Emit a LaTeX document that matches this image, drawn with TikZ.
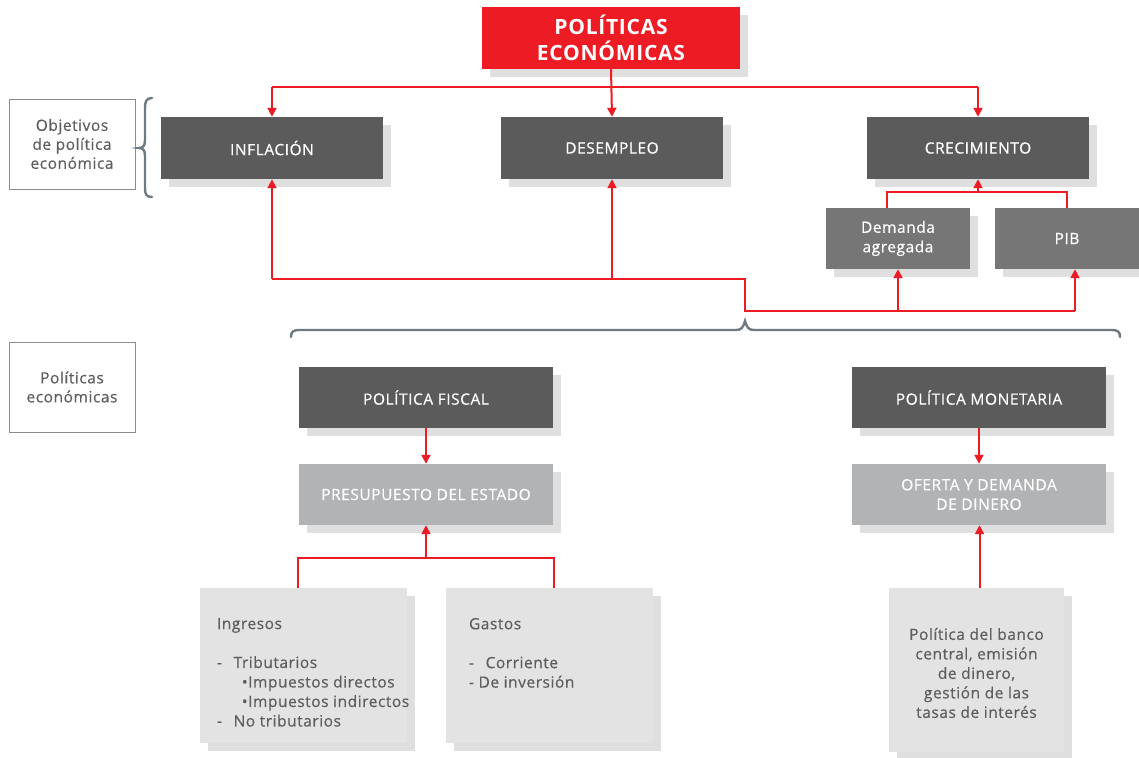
\documentclass[tikz,border=0pt]{standalone}
\usepackage{fontspec}
\setmainfont{Open Sans}[LetterSpace=3.5, UprightFeatures={FakeBold=0.5}]
\usetikzlibrary{arrows.meta,shadows}

\definecolor{polred}{HTML}{ED1C24}
\definecolor{darkbox}{HTML}{5B5B5B}
\definecolor{midbox}{HTML}{767676}
\definecolor{lightbox}{HTML}{B1B3B5}
\definecolor{paperbox}{HTML}{E3E3E3}
\definecolor{shadowgray}{HTML}{DFDFDF}
\definecolor{labelgray}{HTML}{5E5E5E}
\definecolor{framegray}{HTML}{8C8C8C}
\definecolor{bracegray}{HTML}{6E7A80}

\tikzset{
  boxshadow/.style={general shadow={fill=shadowgray, shadow xshift=8pt, shadow yshift=-8pt}},
  basebox/.style={rectangle, inner sep=0pt, align=center, boxshadow,
    font=\fontsize{15.5}{19.5}\selectfont},
  titlebox/.style={basebox, fill=polred, text=white, minimum width=258pt, minimum height=62pt,
    font=\fontsize{21}{26}\selectfont\bfseries},
  objbox/.style={basebox, fill=darkbox, text=white, minimum width=222pt, minimum height=62pt},
  factorbox/.style={basebox, fill=midbox, text=white, minimum width=144pt, minimum height=61pt},
  policybox/.style={basebox, fill=darkbox, text=white, minimum width=254pt, minimum height=61pt},
  toolbox/.style={basebox, fill=lightbox, text=white, minimum width=254pt, minimum height=61pt},
  notebox/.style={basebox, fill=paperbox, text=labelgray},
  sidelabel/.style={rectangle, draw=framegray, line width=0.9pt, inner sep=0pt, align=center,
    text=labelgray, minimum width=126pt, minimum height=90pt,
    font=\fontsize{15.5}{19}\selectfont},
  notetext/.style={inner sep=0pt, align=left, text=labelgray,
    font=\fontsize{15.5}{19.5}\selectfont},
  redln/.style={draw=polred, line width=2pt},
  arr/.style={redln, -{Triangle[width=9pt,length=9pt]}},
  bracestroke/.style={draw=bracegray, line width=2.4pt, line cap=round}
}

\begin{document}
\begin{tikzpicture}[x=1pt,y=-1pt]
\useasboundingbox (0,0) rectangle (1139,757);

% title
\node[titlebox] (title) at (611,38) {POLÍTICAS\\ECONÓMICAS};

% objectives of economic policy
\node[objbox] (infl)  at (272,148) {INFLACIÓN};
\node[objbox] (desem) at (612,148) {DESEMPLEO};
\node[objbox] (crec)  at (978,148) {CRECIMIENTO};

% growth factors
\node[factorbox] (dem) at (898,238.5) {Demanda\\agregada};
\node[factorbox] (pib) at (1067,238.5) {PIB};

% row labels
\node[sidelabel] (lblobj) at (72,144) {Objetivos\\de política\\económica};
\node[sidelabel] (lblpol) at (72,387) {Políticas\\económicas};

% policies
\node[policybox] (fiscal) at (426,397.5) {POLÍTICA FISCAL};
\node[toolbox]   (presu)  at (426,494.5) {PRESUPUESTO DEL ESTADO};
\node[policybox] (monet)  at (979,397.5) {POLÍTICA MONETARIA};
\node[toolbox]   (oferta) at (979,494.5) {OFERTA Y DEMANDA\\DE DINERO};

% detail boxes
\node[notebox, minimum width=207pt, minimum height=155pt] (ingr) at (303.5,665.5) {};
\node[notebox, minimum width=207pt, minimum height=155pt] (gast) at (549.5,665.5) {};
\node[notebox, minimum width=175pt, minimum height=164pt] (banco) at (976.5,670) {};
\node[notetext, align=center] (bancotxt) at ([yshift=-3]banco.center)
  {Política del banco\\central, emisión\\de dinero,\\gestión de las\\tasas de interés};

\node[notetext, anchor=north west] (ingrtxt) at ([shift={(17,30)}]ingr.north west)
  {Ingresos\\[19.4pt]
   -\hspace{0.75em}Tributarios\\
   \hspace{1.6em}\textbullet Impuestos directos\\
   \hspace{1.6em}\textbullet Impuestos indirectos\\
   -\hspace{0.75em}No tributarios};
\node[notetext, anchor=north west] (gasttxt) at ([shift={(23,30)}]gast.north west)
  {Gastos\\[19.4pt]
   -\hspace{0.75em}Corriente\\
   - De inversión};

% title to objectives
\coordinate (ytop) at (0,87);
\draw[redln] (infl.north |- ytop) -- (crec.north |- ytop);
\draw[arr] (title.south) -- (desem.north);
\draw[arr] (infl.north |- ytop) -- (infl.north);
\draw[arr] (crec.north |- ytop) -- (crec.north);

% growth factors to growth
\coordinate (yfac) at (0,192);
\coordinate (demout) at ([xshift=-11]dem.north);
\draw[redln] (demout) -- (demout |- yfac) -- (pib.north |- yfac) -- (pib.north);
\draw[arr] (crec.south |- yfac) -- (crec.south);

% policies feeding the objectives
\coordinate (yA) at (0,279);
\coordinate (yB) at (0,311);
\coordinate (xM) at (745,0);
\coordinate (pibin) at ([xshift=8]pib.south);
\draw[redln] (infl.south |- yA) -- (xM |- yA) -- (xM |- yB) -- (pibin |- yB);
\draw[arr] (infl.south |- yA) -- (infl.south);
\draw[arr] (desem.south |- yA) -- (desem.south);
\draw[arr] (dem.south |- yB) -- (dem.south);
\draw[arr] (pibin |- yB) -- (pibin);

% fiscal branch
\draw[arr] (fiscal.south) -- (presu.north);
\coordinate (yfis) at (0,558);
\coordinate (ingrout) at ([xshift=-6]ingr.north);
\coordinate (gastout) at ([xshift=4.5]gast.north);
\draw[redln] (ingrout) -- (ingrout |- yfis) -- (gastout |- yfis) -- (gastout);
\draw[arr] (presu.south |- yfis) -- (presu.south);

% monetary branch
\draw[arr] (monet.south) -- (oferta.north);
\coordinate (bancoout) at ([xshift=3]banco.north);
\draw[arr] (bancoout) -- (bancoout |- oferta.south);

% braces
\draw[bracestroke] (152,98) .. controls (146,98) and (145,102) .. (145,108)
  -- (145,140) .. controls (145,146) and (143,148) .. (139,148)
  .. controls (143,148) and (145,150) .. (145,156)
  -- (145,188) .. controls (145,194) and (146,197) .. (152,197);
\draw[bracestroke] (291,337) .. controls (291,332) and (293,330) .. (299,330)
  -- (736,330) .. controls (741,330) and (743,328) .. (745,321)
  .. controls (747,328) and (749,330) .. (754,330)
  -- (1112,330) .. controls (1118,330) and (1120,332) .. (1120,337);
\end{tikzpicture}
\end{document}
